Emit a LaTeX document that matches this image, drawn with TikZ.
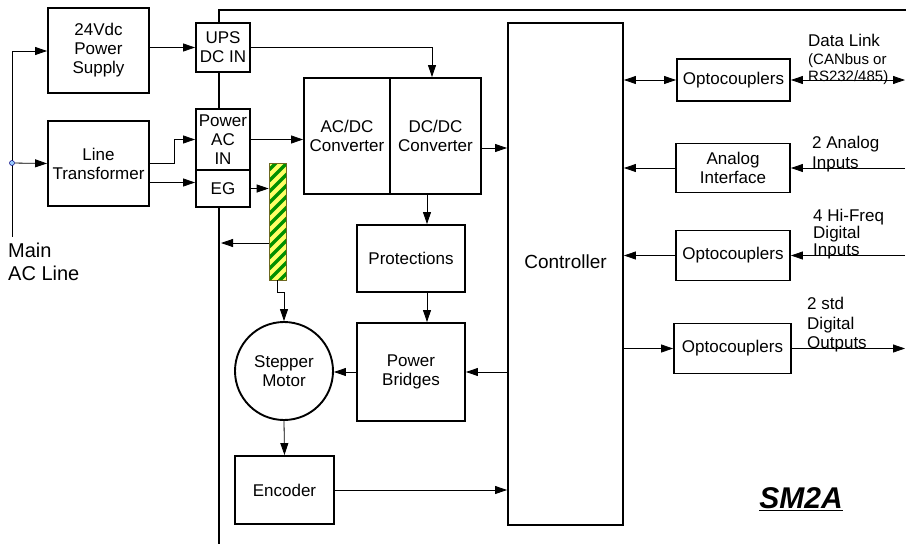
\documentclass[tikz,border=0pt]{standalone}
\usepackage{fontspec}
\setmainfont{Liberation Sans}
\usepackage{xcolor}
\usetikzlibrary{arrows.meta,positioning}
\definecolor{earthyel}{HTML}{FFFF66}
\definecolor{earthgrn}{HTML}{009000}
\definecolor{dotblue}{HTML}{99CCFF}

\begin{document}
\begin{tikzpicture}[x=1pt,y=-1pt,
  blk/.style={draw,line width=1.9pt,fill=white,align=center,inner sep=0pt,font=\fontsize{17}{19}\selectfont},
  dims/.style 2 args={minimum width=#1pt,minimum height=#2pt},
  arr/.style={-{Triangle[length=12pt,width=8pt]},line width=0.8pt},
  darr/.style={{Triangle[length=12pt,width=8pt]}-{Triangle[length=12pt,width=8pt]},line width=0.8pt},
  lbl/.style={anchor=north west,align=left,inner sep=0pt}]
\useasboundingbox (0,0) rectangle (906,544);
% housing of the drive
\draw[line width=2.2pt] (906,10) -| (219,544);
\coordinate (frameW) at (221,0);
\coordinate (edge) at (905,0);
% mains input
\coordinate (acTop) at (12,51);
\coordinate (acBot) at (12,237);
\draw[line width=0.8pt] (acTop) -- (acBot);
\node[circle,draw=blue!50!black,fill=dotblue,inner sep=0pt,minimum size=5pt,line width=0.5pt] (ac) at (12,163) {};
\node[lbl,font=\fontsize{20}{23}\selectfont] (acLbl) at (8,243) {Main\\AC Line};
% boxes
\node[blk,dims={101}{85}] (psu) at (98.5,50.5) {24Vdc\\Power\\Supply};
\node[blk,dims={101}{85}] (trafo) at (98.5,163.5) {Line\\Transformer};
\node[blk,dims={54}{49}] (ups) at (223,47.5) {UPS\\DC IN};
\node[blk,dims={54}{61}] (acin) at (223,139.5) {Power\\AC\\IN};
\node[blk,dims={54}{37},anchor=north,yshift=1.9pt] (eg) at (acin.south) {EG};
\node[blk,dims={86}{116}] (acdc) at (347,136) {AC/DC\\Converter};
\node[blk,dims={91}{116},anchor=west,xshift=-1.9pt] (dcdc) at (acdc.east) {DC/DC\\Converter};
\node[blk,dims={108}{67}] (prot) at (411,258.5) {Protections};
\node[blk,dims={108}{98}] (bridge) at (411,372) {Power\\Bridges};
\node[blk,circle,minimum size=98pt] (motor) at (284,371) {Stepper\\Motor};
\node[blk,dims={99}{68}] (enc) at (284.5,490) {Encoder};
\node[blk,dims={115}{502},label={[font=\fontsize{19}{22}\selectfont,yshift=12pt]center:Controller}] (ctrl) at (565.5,274) {};
\node[blk,dims={113}{42}] (opto1) at (733.5,80) {Optocouplers};
\node[blk,dims={114}{49}] (ana) at (733,168) {Analog\\Interface};
\node[blk,dims={114}{50}] (opto2) at (733,255.5) {Optocouplers};
\node[blk,dims={117}{50}] (opto3) at (732.5,348.5) {Optocouplers};
% earth bar
\node[draw=olive!70!black,line width=0.6pt,dims={17}{117},inner sep=0pt,
  path picture={
    \fill[earthyel] (path picture bounding box.south west) rectangle (path picture bounding box.north east);
    \foreach \k in {-3,...,13}
      \draw[earthgrn,line width=3.3pt] ([yshift=\k*11pt]path picture bounding box.south west) -- ++(30,-30);
  }] (earth) at (277.5,221.5) {};
% power side
\draw[arr] (acTop) -- (acTop -| psu.west);
\draw[arr] (ac) -- (trafo.west);
\draw[arr] (psu.east |- ups.west) -- (ups.west);
\draw[arr] (ups.east) -| ([xshift=-3.5pt]dcdc.north);
\draw[arr] (trafo.east) -- ++(24,0) |- (acin.west);
\draw[arr] ([yshift=-19pt]trafo.east) -- ([yshift=-19pt]trafo.east -| eg.west);
\draw[arr] (eg.east) -- (eg.east -| earth.west);
\draw[arr] ([yshift=-21.5pt]earth.west) -- ([yshift=-21.5pt]earth.west -| frameW);
\draw[arr] (earth.south) -- ++(0,12) -| (motor.north);
\draw[arr] (acin.east) -- (acin.east -| acdc.west);
\draw[arr] ([yshift=-12pt]dcdc.east) -- ([yshift=-12pt]dcdc.east -| ctrl.west);
\draw[arr] ([xshift=16pt]prot.north |- dcdc.south) -- ([xshift=16pt]prot.north);
\draw[arr] ([xshift=16pt]prot.south) -- ([xshift=16pt]bridge.north);
\draw[arr] (ctrl.west |- bridge.east) -- (bridge.east);
\draw[arr] (bridge.west) -- (bridge.west -| motor.east);
\draw[arr] (motor.south) -- (enc.north);
\draw[arr] (enc.east) -- (enc.east -| ctrl.west);
% i/o side
\draw[darr] (ctrl.east |- opto1.west) -- (opto1.west);
\draw[darr] (opto1.east) -- (opto1.east -| edge);
\draw[arr] (ana.east -| edge) -- (ana.east);
\draw[arr] (ana.west) -- (ana.west -| ctrl.east);
\draw[arr] (opto2.east -| edge) -- (opto2.east);
\draw[arr] (opto2.west) -- (opto2.west -| ctrl.east);
\draw[arr] (ctrl.east |- opto3.west) -- (opto3.west);
\draw[arr] (opto3.east) -- (opto3.east -| edge);
\node[lbl,font=\fontsize{17}{17.5}\selectfont] (dlLbl) at (808,34) {Data Link\\{\fontsize{15}{17.5}\selectfont(CANbus or}\\{\fontsize{15}{17.5}\selectfont RS232/485)}};
\node[lbl,font=\fontsize{17}{20}\selectfont] (anaLbl) at (812,136) {2 Analog\\Inputs};
\node[lbl,font=\fontsize{17}{17}\selectfont] (hfLbl) at (813,209) {4 Hi-Freq\\Digital\\Inputs};
\node[lbl,font=\fontsize{17}{19.5}\selectfont] (outLbl) at (807,297) {2 std\\Digital\\Outputs};
\node[font=\fontsize{30}{30}\selectfont\bfseries\itshape] (tag) at (801,499) {\underline{SM2A}};
\end{tikzpicture}
\end{document}
